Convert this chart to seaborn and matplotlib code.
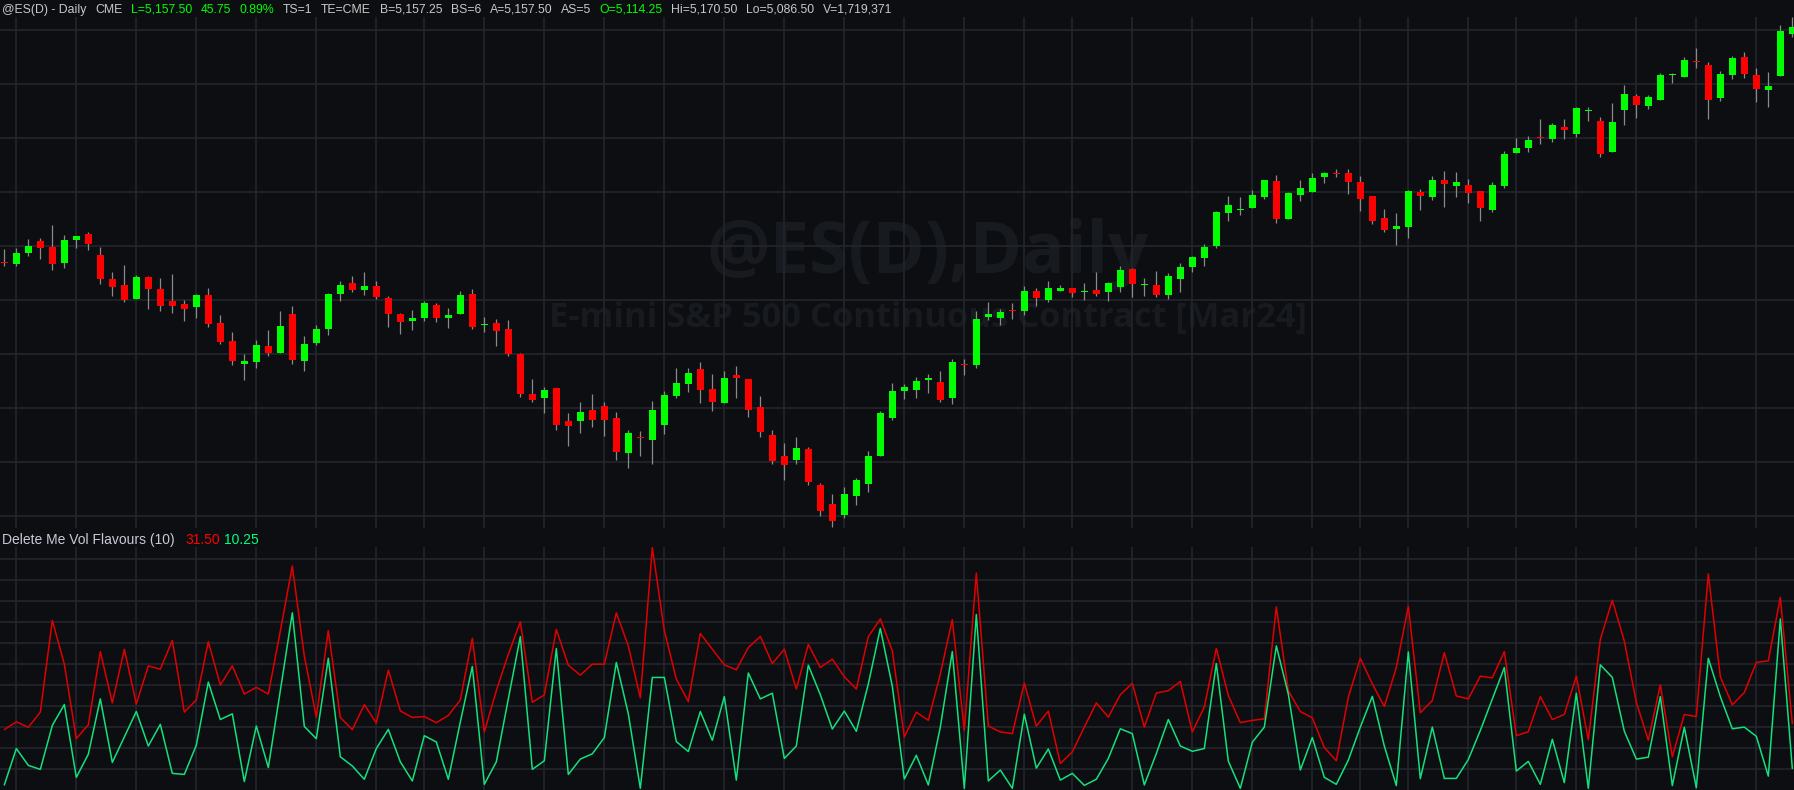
import numpy as np
import pandas as pd
import matplotlib
matplotlib.use('Agg')
import matplotlib.pyplot as plt
import seaborn as sns

# daily bars @ES(D)
opens = [4725.5, 4722.5, 4744.5, 4768, 4756, 4724.5, 4770.5, 4782, 4740, 4692,
         4680, 4652, 4696, 4672, 4648, 4642, 4636, 4660, 4604, 4568,
         4522, 4526, 4558, 4544, 4622, 4528, 4564, 4592, 4662, 4684,
         4670, 4678, 4654, 4622, 4608, 4614, 4640, 4614, 4622.5, 4662,
         4601, 4604, 4592, 4542, 4462, 4454, 4474, 4408, 4408, 4430,
         4438, 4414, 4344, 4375.5, 4370, 4400, 4458, 4482, 4512, 4472,
         4444, 4500, 4492, 4436, 4380, 4338, 4330, 4352, 4280, 4242,
         4220, 4258, 4282, 4338, 4414, 4468, 4470, 4491.5, 4486, 4454,
         4521.5, 4520, 4616, 4614, 4629.5, 4628, 4668, 4650, 4668, 4674,
         4667, 4670, 4666, 4676, 4712, 4681, 4680, 4660, 4692, 4716,
         4734, 4758, 4824, 4831, 4834, 4856, 4888, 4812, 4860, 4866,
         4896, 4903.5, 4904, 4886, 4858, 4814, 4792, 4796, 4866, 4856,
         4890, 4878, 4880, 4868, 4830, 4878, 4944, 4954, 4975, 4972,
         4996, 4982, 5029, 5008, 4946, 5030, 5058, 5038, 5050, 5101,
         5096, 5127.5, 5120, 5054, 5100, 5136, 5100, 5070, 5098, 5182]
highs = [4752, 4754, 4772, 4774, 4800, 4780, 4778, 4786, 4756, 4706,
         4720, 4699.5, 4698, 4694, 4702, 4650, 4662, 4674, 4620, 4586,
         4542, 4570, 4590, 4628, 4638, 4578, 4600, 4664, 4688, 4698,
         4706, 4688, 4658, 4624, 4630, 4648, 4644, 4634, 4668, 4672,
         4616, 4612, 4610, 4544, 4492, 4476, 4474, 4424, 4446, 4462,
         4446, 4426, 4390, 4388, 4448, 4468, 4514, 4514, 4526, 4502,
         4508, 4518, 4492, 4458, 4390, 4364, 4376, 4356, 4284, 4262,
         4276, 4294, 4348, 4428, 4484, 4482, 4496, 4502, 4508, 4532,
         4532, 4628, 4646, 4632, 4644, 4678, 4674, 4688, 4680, 4674,
         4684, 4706, 4686, 4718, 4714, 4694, 4708, 4704, 4724, 4738,
         4762, 4828, 4858, 4856, 4870, 4890, 4900, 4866, 4890, 4904,
         4906, 4912, 4912, 4898, 4858, 4832, 4824, 4870, 4872, 4898,
         4908, 4906, 4892, 4868, 4886, 4948, 4974, 4978, 5012, 5004,
         5012, 5036, 5036, 5016, 5044, 5080, 5062, 5060, 5104, 5104,
         5136, 5154, 5126, 5108, 5138, 5146, 5114, 5106, 5200, 5216]
lows = [4718.5, 4718.5, 4738.5, 4732, 4710.5, 4714.5, 4754.5, 4750.5, 4682.5, 4658,
        4646.5, 4652, 4632, 4628, 4624, 4608, 4614, 4596, 4562, 4520,
        4490, 4514, 4538, 4544, 4522, 4508, 4560, 4580, 4648, 4666,
        4660, 4652, 4596, 4582, 4590, 4608, 4606, 4594, 4622.5, 4592.5,
        4586.5, 4558, 4538, 4456, 4446, 4424, 4390, 4358, 4384, 4396,
        4378, 4330, 4314, 4338, 4322, 4382, 4454, 4466, 4444, 4428,
        4444, 4454, 4416, 4376, 4322, 4290, 4322, 4280, 4218, 4197,
        4214, 4240, 4266, 4338, 4410, 4452, 4454, 4464, 4446, 4442,
        4500, 4514, 4610, 4600, 4612, 4620, 4638, 4646, 4668, 4656,
        4650, 4658, 4648, 4666, 4656, 4658, 4656, 4652, 4666, 4706,
        4718, 4754, 4808, 4820, 4834, 4852, 4804, 4812, 4848, 4866,
        4884, 4896, 4862, 4828, 4802, 4786, 4760, 4774, 4830, 4850,
        4836, 4856, 4844, 4808, 4826, 4874, 4944, 4946, 4962, 4966,
        4972, 4976, 5008, 4936, 4946, 5000, 5014, 5032, 5050, 5084,
        5096, 5114, 5012, 5048, 5092, 5094, 5046, 5036, 5098, 5176]
closes = [4725, 4744, 4758, 4754.5, 4722.5, 4770, 4778, 4762.5, 4692, 4676,
          4650.5, 4696, 4672, 4638, 4638, 4632, 4660, 4602, 4566, 4528,
          4528, 4560, 4544, 4598, 4530, 4562, 4592, 4662, 4680, 4670,
          4678, 4656, 4622, 4606, 4614, 4644, 4614, 4620, 4660, 4596.5,
          4601.5, 4588, 4542, 4462, 4450, 4470, 4400, 4398, 4426, 4410,
          4410, 4346, 4384, 4375, 4430, 4460, 4484, 4504, 4470, 4446,
          4494, 4494, 4430, 4386, 4328, 4320, 4354, 4286, 4228, 4208,
          4262, 4290, 4338, 4424, 4468, 4476, 4488, 4492, 4450, 4526,
          4521, 4612, 4622, 4626, 4629, 4668, 4654, 4674, 4674, 4664,
          4667.5, 4662, 4684, 4710, 4682, 4681.5, 4660, 4698, 4716, 4736,
          4756, 4826, 4840, 4831.5, 4860, 4890, 4812, 4864, 4874, 4894,
          4904, 4903, 4886, 4852, 4808, 4790, 4798, 4868, 4858, 4890,
          4882, 4886, 4864, 4834, 4880, 4942, 4954, 4970, 4974.5, 5000,
          4990, 5034, 5029.5, 4942, 5006, 5062, 5040, 5056, 5100, 5101.5,
          5130, 5127, 5050, 5102, 5134, 5102, 5072, 5078, 5188, 5196]

# "Delete Me Vol Flavours (10)" indicator
vol_red = [28.7, 32.4, 29.8, 37.0, 80.6, 59.8, 24.4, 31.0, 65.8, 41.4,
           66.9, 40.9, 59.0, 57.4, 71.1, 37.0, 42.8, 70.5, 49.9, 59.0,
           45.6, 48.8, 45.6, 75.5, 106.5, 63.7, 34.6, 75.8, 34.5, 28.7,
           40.6, 31.8, 57.0, 37.6, 34.5, 34.9, 32.0, 35.4, 42.8, 72.1,
           27.6, 47.2, 64.5, 79.9, 41.7, 45.2, 76.3, 59.3, 54.6, 59.8,
           59.8, 84.2, 68.5, 43.8, 115.2, 75.8, 52.7, 42.0, 74.4, 66.9,
           59.5, 57.1, 67.7, 73.0, 60.1, 66.9, 48.0, 69.2, 58.2, 62.2,
           53.8, 48.0, 72.9, 81.3, 66.1, 25.2, 37.0, 33.1, 55.1, 81.0,
           28.3, 103.1, 30.4, 27.6, 26.8, 50.8, 30.4, 37.5, 12.6, 18.1,
           29.9, 41.4, 34.6, 45.3, 50.7, 29.9, 46.1, 47.2, 51.6, 27.6,
           39.4, 67.3, 44.9, 32.0, 33.1, 33.8, 87.0, 47.2, 37.3, 34.3,
           20.2, 13.9, 44.1, 62.6, 50.4, 39.7, 58.2, 87.3, 36.7, 42.5,
           65.3, 44.7, 43.3, 54.1, 53.3, 65.8, 25.8, 27.7, 44.4, 33.5,
           35.9, 54.1, 23.9, 71.6, 90.2, 70.8, 41.7, 23.6, 50.0, 15.8,
           35.9, 34.9, 102.7, 53.8, 40.5, 46.3, 60.6, 61.4, 91.6, 31.5]
vol_green = [2.4, 19.7, 11.7, 9.8, 30.7, 40.6, 6.0, 17.0, 43.3, 13.1,
             25.2, 37.3, 20.9, 31.2, 7.9, 7.4, 21.3, 51.3, 33.5, 36.2,
             4.0, 30.4, 10.7, 47.2, 84.2, 30.2, 24.4, 62.6, 15.8, 11.4,
             5.1, 19.7, 28.8, 13.4, 4.3, 25.8, 22.8, 5.1, 32.3, 58.7,
             2.7, 13.4, 43.3, 72.9, 9.8, 13.9, 67.2, 7.4, 14.7, 17.2,
             24.9, 60.6, 36.2, 0.8, 53.5, 53.5, 23.0, 18.3, 37.3, 23.6,
             44.4, 4.7, 55.6, 43.3, 46.0, 15.0, 20.9, 59.3, 45.3, 29.0,
             37.5, 27.9, 50.4, 76.8, 49.3, 5.2, 16.5, 2.4, 29.9, 65.8,
             0.8, 83.4, 4.3, 9.5, 0.8, 36.0, 10.4, 19.5, 4.7, 7.9,
             2.2, 5.1, 15.0, 29.1, 26.8, 2.4, 17.3, 33.5, 20.9, 18.4,
             19.7, 60.1, 13.7, 0.8, 22.7, 29.9, 68.5, 45.6, 9.5, 24.9,
             6.0, 2.7, 14.2, 29.9, 44.5, 20.9, 2.1, 65.6, 5.4, 29.9,
             5.5, 5.5, 14.5, 28.3, 43.3, 58.2, 9.0, 13.6, 2.7, 24.1,
             3.5, 46.0, 0.8, 59.5, 53.5, 27.9, 14.7, 15.6, 44.4, 2.1,
             29.8, 1.1, 62.6, 44.4, 29.1, 29.9, 25.5, 6.6, 81.3, 10.25]

# bars where a new week starts (vertical grid)
week_starts = [1, 6, 11, 16, 21, 26, 31, 35, 40, 45, 50, 55, 60, 65, 70, 75,
               80, 85, 89, 94, 99, 104, 109, 113, 117, 122, 126, 131, 136, 141, 146]

header_texts = ["@ES(D) - Daily", "CME", "L=5,157.50", "45.75", "0.89%", "TS=1",
                "TE=CME", "B=5,157.25", "BS=6", "A=5,157.50", "AS=5", "O=5,114.25",
                "Hi=5,170.50", "Lo=5,086.50", "V=1,719,371"]
watermark_title = "@ES(D),Daily"
watermark_sub = "E-mini S&P 500 Continuous Contract [Mar24]"
indicator_name = "Delete Me Vol Flavours (10)"


def main():
    W, H = 1794, 790
    bg = '#0d0e11'
    grid = '#24262d'

    sns.set_theme(style='dark', rc={'axes.facecolor': bg, 'figure.facecolor': bg,
                                    'savefig.facecolor': bg})
    plt.rcParams['font.family'] = ['Liberation Sans', 'DejaVu Sans']

    fig = plt.figure(figsize=(W / 100, H / 100), dpi=100)
    ax = fig.add_axes([0, 1 - 528 / H, 1, (528 - 17) / H])
    axv = fig.add_axes([0, 0, 1, (H - 547) / H])

    df = pd.DataFrame({'o': opens, 'h': highs, 'l': lows, 'c': closes})
    df['i'] = np.arange(len(df))
    up = df['c'] > df['o']
    colors = np.where(up, '#00ff00', '#ff0000')

    for a in (ax, axv):
        a.set_facecolor(bg)
        for s in a.spines.values():
            s.set_visible(False)
        a.set_xlim(-0.36, 149.14)
        a.set_xticks(week_starts)
        a.tick_params(length=0, labelbottom=False, labelleft=False)
        a.grid(True, color=grid, lw=1.2)
        a.set_axisbelow(True)

    # main price panel
    ax.set_ylim(4194, 5216)
    ax.set_yticks(np.arange(5189.4, 4190, -107.9))

    # watermark behind the candles
    ax.text(928 / W, 1 - 273 / H, watermark_title, transform=fig.transFigure,
            ha='center', va='baseline', fontsize=51, fontweight='bold',
            family=['Open Sans', 'DejaVu Sans'], color='#171a1f', zorder=0.5)
    ax.text(928 / W, 1 - 327 / H, watermark_sub, transform=fig.transFigure,
            ha='center', va='baseline', fontsize=24.8, fontweight='bold',
            family=['Open Sans', 'DejaVu Sans'], color='#171a1f', zorder=0.5)

    ax.vlines(df['i'], df['l'], df['h'], color='#8a8a8a', lw=0.9, zorder=2)
    body = (df['c'] - df['o']).abs()
    mid = (df['c'] + df['o']) / 2
    height = np.maximum(body, 3.0)
    ax.bar(df['i'], height, bottom=mid - height / 2, width=0.6,
           color=colors, linewidth=0, zorder=3)

    # indicator panel
    vol = pd.DataFrame({'i': np.arange(len(vol_red)), 'red': vol_red, 'green': vol_green})
    sns.lineplot(data=vol, x='i', y='red', ax=axv, color='#e00000', lw=1.1, zorder=3)
    sns.lineplot(data=vol, x='i', y='green', ax=axv, color='#14e07c', lw=1.1, zorder=4)
    axv.set_ylim(0, 115.5)
    axv.set_yticks(np.arange(10, 111, 10))
    axv.set_xlabel('')
    axv.set_ylabel('')

    # header line, pieces laid out one after the other
    renderer = fig.canvas.get_renderer()
    greens = {2, 3, 4, 11}
    x = 2
    for k, txt in enumerate(header_texts):
        t = fig.text(x / W, 1 - 10 / H, txt, ha='left', va='center', fontsize=8.8,
                     color='#00ff00' if k in greens else '#c8c8c8')
        x = t.get_window_extent(renderer).x1 + 8.6

    # indicator label
    fig.text(2 / W, 1 - 540 / H, indicator_name, ha='left', va='center',
             fontsize=10, color='#c5cad6')
    fig.text(185 / W, 1 - 540 / H, f'{vol_red[-1]:.2f}', ha='left', va='center',
             fontsize=10, color='#ff0000')
    fig.text(224 / W, 1 - 540 / H, f'{vol_green[-1]:.2f}', ha='left', va='center',
             fontsize=10, color='#00ff7f')

    fig.savefig('out.png', dpi=100, facecolor=bg)


if __name__ == '__main__':
    main()
